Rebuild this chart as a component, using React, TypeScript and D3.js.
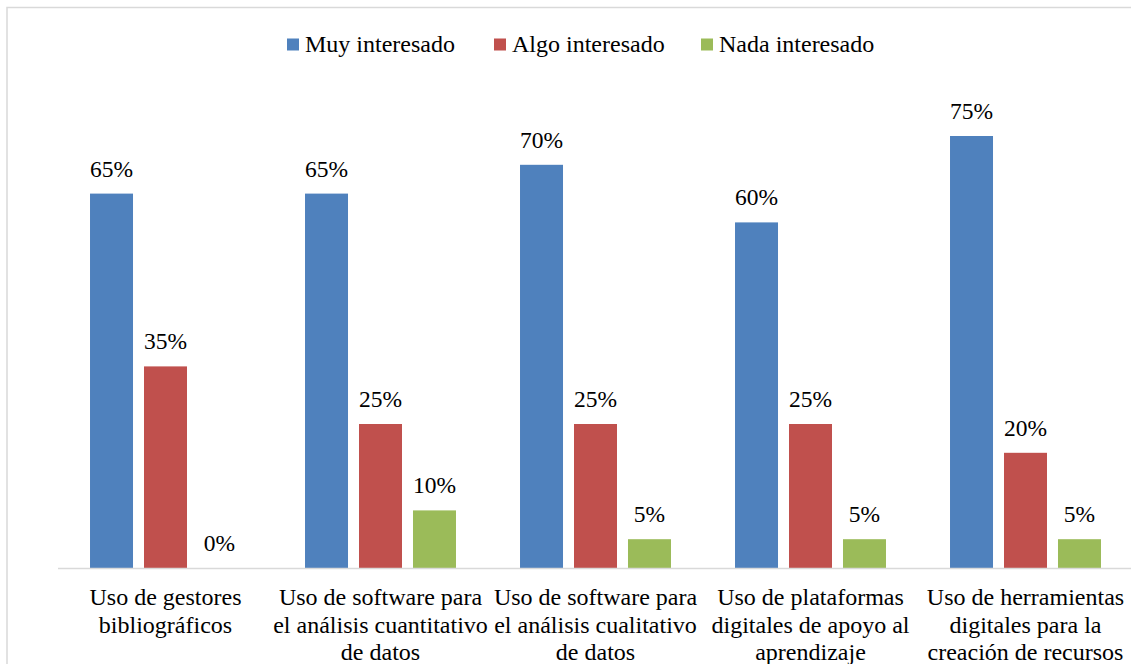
import React from "react";
import * as d3 from "d3";

// datos
const categories = [
  "Uso de gestores\nbibliográficos",
  "Uso de software para\nel análisis cuantitativo\nde datos",
  "Uso de software para\nel análisis cualitativo\nde datos",
  "Uso de plataformas\ndigitales de apoyo al\naprendizaje",
  "Uso de herramientas\ndigitales para la\ncreación de recursos",
];
const seriesNames = ["Muy interesado", "Algo interesado", "Nada interesado"];
const muyInteresado = [65, 65, 70, 60, 75];
const algoInteresado = [35, 25, 25, 25, 20];
const nadaInteresado = [0, 10, 5, 5, 5];
const colors = ["#4F81BD", "#C0504D", "#9BBB59"];

const W = 1131;
const H = 664;
const FONT = "Liberation Serif, Tinos, Times New Roman, DejaVu Serif, serif";

const App = () => {
  const values = [muyInteresado, algoInteresado, nadaInteresado];

  // eje x: una banda por categoría
  const x0 = d3
    .scaleBand()
    .domain(categories.map((c, i) => String(i)))
    .range([58, 1133])
    .padding(0);
  // barras dentro de cada grupo
  const x1 = d3
    .scaleBand()
    .domain(seriesNames)
    .range([0, x0.bandwidth()])
    .paddingInner(0.2037)
    .paddingOuter(0.593);
  const y = d3.scaleLinear().domain([0, 80]).range([568, 107.2]);

  const txt = { fontFamily: FONT, fill: "#000" };

  return (
    <div style={{ position: "fixed", left: 0, top: 0 }}>
      <svg width={W} height={H} style={{ display: "block", background: "#fff" }}>
        <rect
          x={7}
          y={7.5}
          width={W + 20}
          height={H + 20}
          fill="#fff"
          stroke="#d9d9d9"
          strokeWidth={1.5}
        />

        {/* leyenda */}
        {seriesNames.map((name, i) => (
          <g key={name} transform={`translate(${287 + i * 207},0)`}>
            <rect x={0} y={38.5} width={12} height={12} fill={colors[i]} />
            <text x={18} y={52} style={{ ...txt, fontSize: 24 }}>
              {name}
            </text>
          </g>
        ))}

        {/* barras */}
        {categories.map((c, ci) => (
          <g key={ci} transform={`translate(${x0(String(ci))},0)`}>
            {seriesNames.map((s, si) => {
              const v = values[si][ci];
              const bx = x1(s)!;
              return (
                <g key={s}>
                  <rect
                    x={bx}
                    y={y(v)}
                    width={x1.bandwidth()}
                    height={y(0) - y(v)}
                    fill={colors[si]}
                  />
                  <text
                    x={bx + x1.bandwidth() / 2}
                    y={y(v) - 17}
                    textAnchor="middle"
                    style={{ ...txt, fontSize: 23.5 }}
                  >
                    {v}%
                  </text>
                </g>
              );
            })}
          </g>
        ))}

        {/* línea base */}
        <line x1={58} x2={1133} y1={568.5} y2={568.5} stroke="#d9d9d9" strokeWidth={1.5} />

        {/* etiquetas de categoría */}
        {categories.map((c, ci) => {
          const cx = x0(String(ci))! + x0.bandwidth() / 2;
          return (
            <text key={ci} x={cx} y={605} textAnchor="middle" style={{ ...txt, fontSize: 24 }}>
              {c.split("\n").map((line, li) => (
                <tspan key={li} x={cx} y={605 + li * 27.5}>
                  {line}
                </tspan>
              ))}
            </text>
          );
        })}
      </svg>
    </div>
  );
};

export default App;
